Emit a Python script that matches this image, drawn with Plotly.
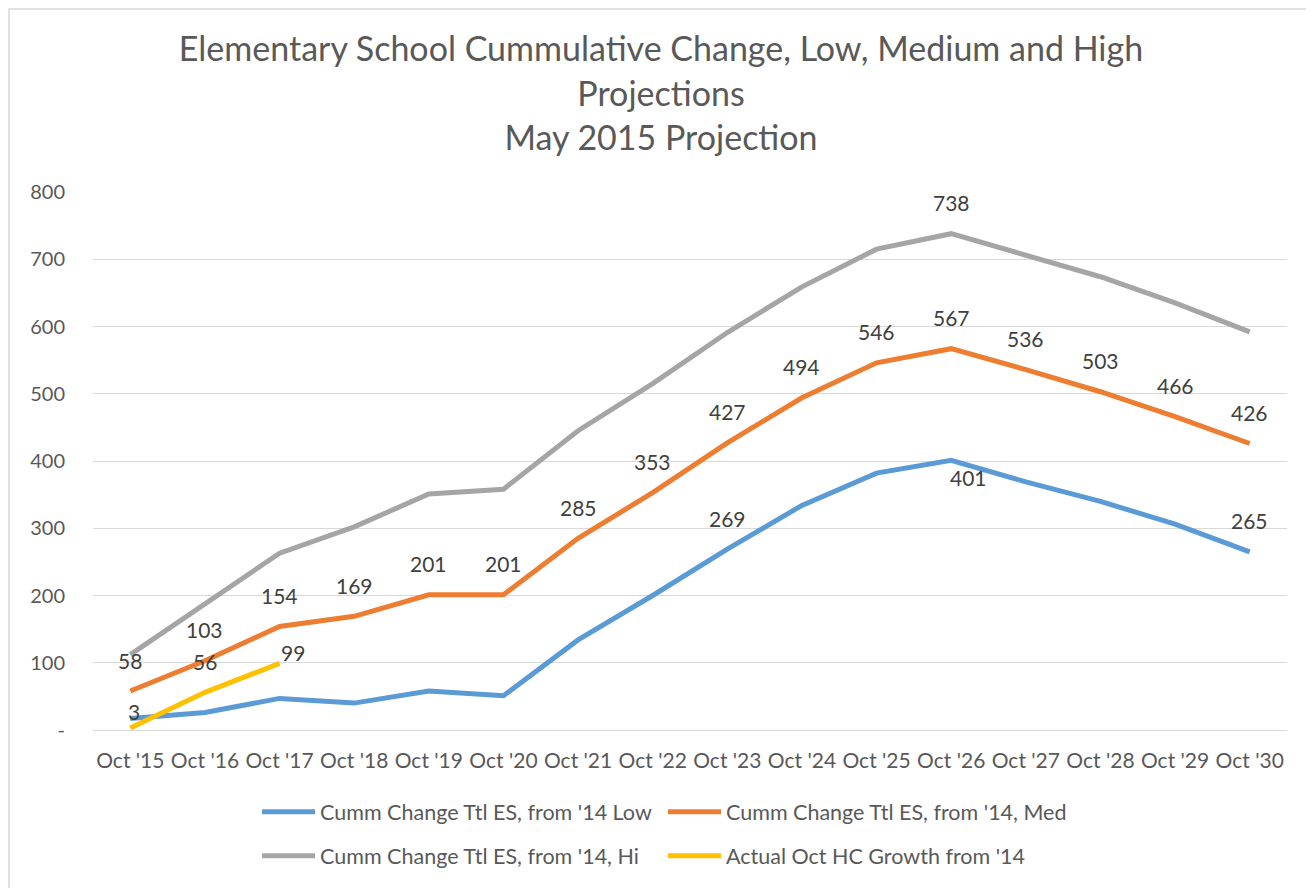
import plotly.graph_objects as go

categories = ["Oct '15", "Oct '16", "Oct '17", "Oct '18", "Oct '19", "Oct '20", "Oct '21", "Oct '22",
              "Oct '23", "Oct '24", "Oct '25", "Oct '26", "Oct '27", "Oct '28", "Oct '29", "Oct '30"]

low = [17, 26, 47, 40, 58, 51, 134, 200, 269, 334, 382, 401, 369, 340, 306, 265]
med = [58, 103, 154, 169, 201, 201, 285, 353, 427, 494, 546, 567, 536, 503, 466, 426]
hi = [112, 188, 263, 302, 351, 358, 445, 515, 591, 659, 715, 738, 706, 674, 635, 592]
actual = [3, 56, 99]

# which points carry a data label (index lists)
low_labelled = [8, 11, 15]
med_labelled = list(range(16))
hi_labelled = [11]
actual_labelled = [0, 1, 2]

y_tickvals = [0, 100, 200, 300, 400, 500, 600, 700, 800]
y_ticktext = ["-", "100", "200", "300", "400", "500", "600", "700", "800"]

names = ["Cumm Change Ttl ES, from '14 Low", "Cumm Change Ttl ES, from '14, Med",
         "Cumm Change Ttl ES, from '14, Hi", "Actual Oct HC Growth from '14"]
colors = ["#5B9BD5", "#ED7D31", "#A5A5A5", "#FFC000"]

FONT = "Lato"
label_font = dict(family=FONT, size=21, color="#404040")

# label pixel offsets (style): default above the point
DEFAULT_OFF = (0, 31)
special_off = {("low", 11): (17, -17), ("actual", 0): (4, 16), ("actual", 2): (13, 11)}

# legend grid placement (paper coords): 2 columns x 2 rows
legend_ids = ["legend", "legend2", "legend3", "legend4"]
legend_x = [0.1374, 0.4774, 0.1374, 0.4774]
legend_y = [-0.152, -0.152, -0.234, -0.234]

fig = go.Figure()
series = [("low", low, low_labelled), ("med", med, med_labelled),
          ("hi", hi, hi_labelled), ("actual", actual, actual_labelled)]

annotations = []
for i, (key, vals, labelled) in enumerate(series):
    fig.add_trace(go.Scatter(x=categories[:len(vals)], y=vals, name=names[i], mode="lines",
                             line=dict(color=colors[i], width=5), legend=legend_ids[i]))
    for j in labelled:
        dx, dy = special_off.get((key, j), DEFAULT_OFF)
        annotations.append(dict(x=categories[j], y=vals[j], xref="x", yref="y", text=str(vals[j]),
                                showarrow=False, xshift=dx, yshift=dy, font=label_font))

legend_layout = {}
for i, lid in enumerate(legend_ids):
    legend_layout[lid] = dict(orientation="h", xanchor="left", x=legend_x[i], yanchor="middle",
                              y=legend_y[i], font=dict(family=FONT, size=21.5, color="#595959"),
                              bgcolor="rgba(0,0,0,0)", itemwidth=53)

fig.update_layout(
    width=1306, height=880,
    margin=dict(l=85, r=27, t=184, b=158, autoexpand=False),
    paper_bgcolor="white", plot_bgcolor="white",
    title=dict(text="Elementary School Cummulative Change, Low, Medium and High<br>Projections<br>May 2015 Projection",
               x=0.5, xanchor="center", y=0.9394, yanchor="top", yref="container",
               font=dict(family=FONT, size=34, color="#595959")),
    xaxis=dict(type="category", range=[-0.5, 15.5], showgrid=False, showline=False, zeroline=False,
               ticks="", tickfont=dict(family=FONT, size=21, color="#595959"), ticklabelstandoff=16),
    yaxis=dict(range=[0, 800], tickvals=y_tickvals, ticktext=y_ticktext, showgrid=True,
               gridcolor="#D9D9D9", gridwidth=1, zeroline=True, zerolinecolor="#D9D9D9",
               zerolinewidth=1, showline=False, ticks="",
               tickfont=dict(family=FONT, size=20, color="#595959"), ticklabelstandoff=27),
    showlegend=True,
    annotations=annotations,
    shapes=[dict(type="rect", xref="paper", yref="paper", x0=-0.0704, x1=1.05, y0=-0.35, y1=1.340,
                 line=dict(color="#D9D9D9", width=1.5), fillcolor="rgba(0,0,0,0)", layer="below")],
    **legend_layout,
)

fig.write_html("out.html")
